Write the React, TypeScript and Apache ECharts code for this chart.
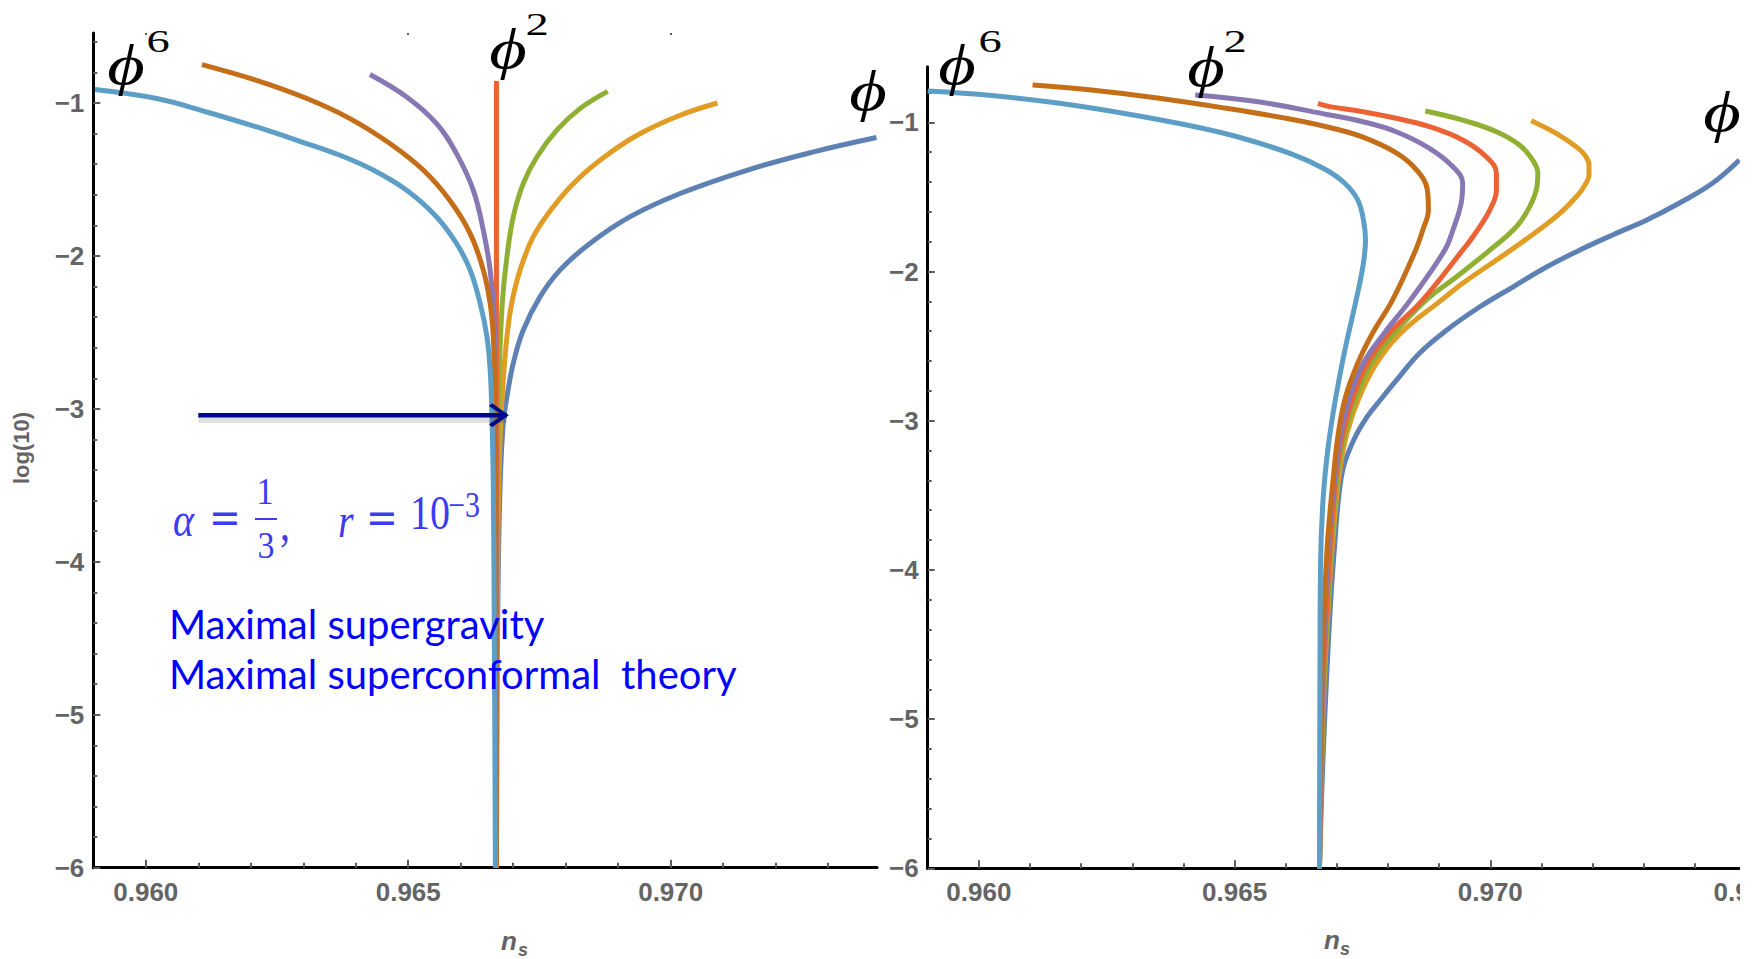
import React, { useEffect, useRef } from "react";
import * as echarts from "echarts";

type Pt = [number, number];

// ---------- axes ----------
const X_MIN = 0.959;
const LEFT_X_MAX = 0.97393;
const RIGHT_X_MAX = 0.975;
const Y_MIN = -6;
const LEFT_Y_MAX = -0.5425;
const RIGHT_Y_MAX = -0.6273;

const xLabelsLeft = [0.96, 0.965, 0.97];
const xLabelsRight = [0.96, 0.965, 0.97, 0.975];
const xMinorLeft = [0.961, 0.962, 0.963, 0.964, 0.966, 0.967, 0.968, 0.969, 0.971, 0.972, 0.973];
const xMinorRight = [0.961, 0.962, 0.963, 0.964, 0.966, 0.967, 0.968, 0.969, 0.971, 0.972, 0.973, 0.974];
const yLabels = [-6, -5, -4, -3, -2, -1];
const yMinorLeft = [-5.8, -5.6, -5.4, -5.2, -4.8, -4.6, -4.4, -4.2, -3.8, -3.6, -3.4, -3.2, -2.8, -2.6, -2.4, -2.2, -1.8, -1.6, -1.4, -1.2, -0.8, -0.6];
const yMinorRight = [-5.8, -5.6, -5.4, -5.2, -4.8, -4.6, -4.4, -4.2, -3.8, -3.6, -3.4, -3.2, -2.8, -2.6, -2.4, -2.2, -1.8, -1.6, -1.4, -1.2, -0.8];

// ---------- left panel curves (n_s, log10 r) ----------
const leftPhi1: Pt[] = [[0.97392, -1.226], [0.97272, -1.32], [0.97145, -1.44], [0.97018, -1.592], [0.96922, -1.745], [0.96846, -1.919], [0.96789, -2.093], [0.96751, -2.268], [0.96719, -2.486], [0.967, -2.703], [0.96688, -2.922], [0.96681, -3.095], [0.96675, -3.5], [0.96671, -4.2], [0.96669, -5], [0.96668, -6]];
const leftOrange: Pt[] = [[0.97089, -1.0], [0.97018, -1.08], [0.96942, -1.2], [0.96878, -1.342], [0.96821, -1.505], [0.96776, -1.68], [0.96738, -1.876], [0.96713, -2.093], [0.96697, -2.311], [0.96688, -2.529], [0.96681, -2.812], [0.96675, -3.2], [0.96671, -3.8], [0.96669, -4.8], [0.96668, -6]];
const leftGreen: Pt[] = [[0.9688, -0.924], [0.96827, -1.037], [0.96783, -1.178], [0.96745, -1.353], [0.96719, -1.527], [0.967, -1.745], [0.96688, -2.007], [0.9668, -2.268], [0.96675, -2.595], [0.96672, -2.922], [0.9667, -3.5], [0.96668, -4.5], [0.96668, -6]];
const leftPhi2: Pt[] = [[0.96668, -0.856], [0.96668, -6]];
const leftPurple: Pt[] = [[0.96427, -0.814], [0.96497, -0.961], [0.96554, -1.135], [0.96592, -1.331], [0.96624, -1.571], [0.96643, -1.832], [0.96656, -2.093], [0.96663, -2.376], [0.96666, -2.8], [0.96667, -3.5], [0.96668, -4.5], [0.96668, -6]];
const leftBrown: Pt[] = [[0.96107, -0.749], [0.96211, -0.852], [0.96307, -0.971], [0.96389, -1.102], [0.96465, -1.265], [0.96529, -1.44], [0.96579, -1.636], [0.96618, -1.854], [0.96643, -2.093], [0.96656, -2.311], [0.96662, -2.529], [0.96665, -2.9], [0.96667, -3.6], [0.96668, -6]];
const leftPhi6: Pt[] = [[0.95903, -0.912], [0.96021, -0.971], [0.96116, -1.059], [0.96211, -1.157], [0.96288, -1.244], [0.9637, -1.342], [0.96434, -1.44], [0.96497, -1.571], [0.96554, -1.745], [0.96592, -1.919], [0.96618, -2.093], [0.96637, -2.311], [0.9665, -2.529], [0.96656, -2.747], [0.96659, -2.987], [0.96662, -3.5], [0.96664, -4.5], [0.96666, -6]];

// ---------- right panel curves ----------
const rightPhi1: Pt[] = [[0.97487, -1.253], [0.97435, -1.407], [0.9737, -1.541], [0.97306, -1.655], [0.97239, -1.755], [0.97175, -1.856], [0.9711, -1.97], [0.97044, -2.104], [0.96979, -2.238], [0.96915, -2.392], [0.96862, -2.546], [0.96817, -2.727], [0.96785, -2.861], [0.96759, -2.975], [0.96733, -3.129], [0.96713, -3.31], [0.96703, -3.532], [0.96695, -3.867], [0.96688, -4.202], [0.96681, -4.651], [0.96675, -5.093], [0.9667, -5.541], [0.96666, -6]];
const rightOrange: Pt[] = [[0.9708, -0.989], [0.97129, -1.074], [0.97168, -1.164], [0.97185, -1.22], [0.97193, -1.287], [0.97193, -1.354], [0.97185, -1.421], [0.97171, -1.488], [0.97136, -1.61], [0.97077, -1.767], [0.97012, -1.923], [0.96946, -2.079], [0.96905, -2.19], [0.96825, -2.412], [0.96778, -2.613], [0.96744, -2.841], [0.9672, -3.082], [0.96705, -3.35], [0.96692, -3.803], [0.96684, -4.205], [0.96674, -4.875], [0.96666, -6]];
const rightGreen: Pt[] = [[0.96873, -0.924], [0.96946, -0.985], [0.97012, -1.063], [0.97057, -1.152], [0.97083, -1.253], [0.97093, -1.342], [0.9709, -1.454], [0.97077, -1.566], [0.97051, -1.7], [0.96999, -1.857], [0.96934, -2.035], [0.96875, -2.19], [0.96813, -2.412], [0.96768, -2.613], [0.96738, -2.841], [0.96716, -3.082], [0.96702, -3.35], [0.9669, -3.803], [0.96683, -4.205], [0.96673, -4.875], [0.96666, -6]];
const rightPhi2: Pt[] = [[0.96663, -0.873], [0.96686, -0.895], [0.96751, -0.929], [0.96816, -0.973], [0.96881, -1.029], [0.96946, -1.119], [0.96992, -1.231], [0.97012, -1.342], [0.97012, -1.454], [0.96999, -1.588], [0.96966, -1.767], [0.96946, -1.857], [0.96868, -2.19], [0.96803, -2.412], [0.9676, -2.613], [0.96732, -2.841], [0.96712, -3.082], [0.96699, -3.35], [0.96688, -3.803], [0.96681, -4.205], [0.96672, -4.875], [0.96666, -6]];
const rightPurple: Pt[] = [[0.96423, -0.817], [0.96546, -0.862], [0.96686, -0.951], [0.96751, -0.996], [0.96816, -1.063], [0.96881, -1.174], [0.96927, -1.298], [0.96946, -1.409], [0.96943, -1.543], [0.96927, -1.722], [0.96911, -1.857], [0.96844, -2.19], [0.96793, -2.412], [0.96752, -2.613], [0.96725, -2.841], [0.96708, -3.082], [0.96697, -3.35], [0.96684, -3.803], [0.96678, -4.205], [0.96671, -4.875], [0.96666, -6]];
const rightBrown: Pt[] = [[0.96105, -0.75], [0.9622, -0.784], [0.96349, -0.837], [0.9648, -0.904], [0.96608, -0.978], [0.96686, -1.035], [0.96751, -1.099], [0.96817, -1.206], [0.96856, -1.32], [0.96877, -1.454], [0.96879, -1.588], [0.96868, -1.722], [0.96854, -1.857], [0.96809, -2.19], [0.9677, -2.412], [0.96741, -2.613], [0.96717, -2.841], [0.96703, -3.082], [0.96694, -3.35], [0.96682, -3.803], [0.96676, -4.205], [0.9667, -4.875], [0.96666, -6]];
const rightPhi6: Pt[] = [[0.959, -0.79], [0.96025, -0.82], [0.96154, -0.871], [0.96285, -0.941], [0.96416, -1.025], [0.96514, -1.105], [0.96611, -1.212], [0.96676, -1.313], [0.96715, -1.407], [0.96741, -1.521], [0.96752, -1.655], [0.96756, -1.789], [0.96752, -1.943], [0.96739, -2.171], [0.96717, -2.506], [0.96698, -2.842], [0.96683, -3.177], [0.96673, -3.532], [0.96668, -3.981], [0.96667, -4.651], [0.96666, -6]];

// ---------- arrow annotation ----------
const arrowY = -3.041;
const arrowShadowY = -3.07;
const arrowStartX = 0.961;
const arrowTipX = 0.96688;

// ---------- colours ----------
const C_PHI1 = "#5E81B5";
const C_ORANGE = "#E19C24";
const C_GREEN = "#8FB032";
const C_PHI2 = "#EB6235";
const C_PURPLE = "#8778B3";
const C_BROWN = "#C56E1A";
const C_PHI6 = "#5D9EC7";

const TICK_GRAY = "#5c5c5c";
const LABEL_GRAY = "#646464";
const MATH_BLUE = "#3b3bf2";
const ARROW_BLUE = "#00098c";

const labelStyle = {
  color: LABEL_GRAY,
  fontSize: 26,
  fontWeight: "bold" as const,
  fontFamily: '"Liberation Sans", Arial, sans-serif',
};

function lineSeries(name: string, data: Pt[], color: string, xi: number, yi: number) {
  return {
    type: "line",
    name,
    data,
    xAxisIndex: xi,
    yAxisIndex: yi,
    symbol: "none",
    showSymbol: false,
    smooth: 0.4,
    silent: true,
    lineStyle: { color, width: 5, cap: "butt" },
    itemStyle: { color },
    z: 2,
  };
}

function mainX(grid: number, max: number, labels: number[]) {
  return {
    type: "value",
    gridIndex: grid,
    min: X_MIN,
    max,
    position: "bottom",
    axisLine: { show: true, onZero: false, lineStyle: { color: "#000", width: 3 } },
    axisTick: { show: true, inside: true, length: 8, customValues: labels, lineStyle: { color: TICK_GRAY, width: 2 } },
    axisLabel: { show: true, customValues: labels, margin: 11, formatter: (v: number) => v.toFixed(3), ...labelStyle },
    splitLine: { show: false },
  };
}
function minorX(grid: number, max: number, ticks: number[], position = "bottom", len = 5) {
  return {
    type: "value",
    gridIndex: grid,
    min: X_MIN,
    max,
    position,
    axisLine: { show: false },
    axisTick: { show: true, inside: true, length: len, customValues: ticks, lineStyle: { color: TICK_GRAY, width: 2 } },
    axisLabel: { show: false },
    splitLine: { show: false },
  };
}
function mainY(grid: number, max: number) {
  return {
    type: "value",
    gridIndex: grid,
    min: Y_MIN,
    max,
    position: "left",
    axisLine: { show: true, onZero: false, lineStyle: { color: "#000", width: 3 } },
    axisTick: { show: true, inside: true, length: 7, customValues: yLabels, lineStyle: { color: TICK_GRAY, width: 2 } },
    axisLabel: { show: true, customValues: yLabels, margin: 9, formatter: (v: number) => "\u2212" + Math.abs(v), ...labelStyle },
    splitLine: { show: false },
  };
}
function minorY(grid: number, max: number, ticks: number[]) {
  return {
    type: "value",
    gridIndex: grid,
    min: Y_MIN,
    max,
    position: "left",
    axisLine: { show: false },
    axisTick: { show: true, inside: true, length: 4, customValues: ticks, lineStyle: { color: TICK_GRAY, width: 2 } },
    axisLabel: { show: false },
    splitLine: { show: false },
  };
}

const CHEVRON = "path://M0,2.8 L3.2,0 L20,12 L3.2,24 L0,21.2 L13.5,12 Z";

function txt(text: string, x: number, y: number, font: string, fill: string, align = "center", extra: any = {}) {
  return {
    type: "text",
    x,
    y,
    z: 10,
    silent: true,
    ...extra,
    style: { text, font, fill, align, verticalAlign: "middle", textAlign: align, textVerticalAlign: "middle" },
  };
}

const PHI_FONT = 'italic 58px "Liberation Serif", "DejaVu Serif", serif';
const SUP_FONT = '31px "Liberation Serif", serif';
const MATH_FONT = '40px "Liberation Serif", serif';
const MATH_EQ = '38px "DejaVu Serif", serif';
const MATH_IT = 'italic 40px "Liberation Serif", serif';
const MATH_FRAC = '34px "Liberation Serif", serif';
const MATH_SUP = '30px "Liberation Serif", serif';
const TEXT_FONT = '40px Lato, "Open Sans", sans-serif';
const AXNAME_FONT = 'italic bold 26px "Liberation Sans", Arial, sans-serif';
const AXSUB_FONT = 'italic bold 18px "Liberation Sans", Arial, sans-serif';

const PHI_SCALE = { scaleX: 1.25 };
const SUP_SCALE = { scaleX: 1.5 };
const MATH_SCALE = { scaleY: 1.2 };
const FRAC_SCALE = { scaleY: 1.1 };

export default function App() {
  const ref = useRef<HTMLDivElement>(null);
  useEffect(() => {
    if (!ref.current) return;
    const chart = echarts.init(ref.current, null, { renderer: "svg" });
    const option: any = {
      animation: false,
      backgroundColor: "#ffffff",
      grid: [
        { left: 93.3, top: 33, width: 783.7, height: 834.7, containLabel: false, outerBoundsMode: "none" },
        { left: 927.7, top: 66.7, width: 818.3, height: 801.6, containLabel: false, outerBoundsMode: "none" },
      ],
      xAxis: [
        mainX(0, LEFT_X_MAX, xLabelsLeft),
        minorX(0, LEFT_X_MAX, xMinorLeft),
        minorX(0, LEFT_X_MAX, xLabelsLeft, "top", 2),
        mainX(1, RIGHT_X_MAX, xLabelsRight),
        minorX(1, RIGHT_X_MAX, xMinorRight),
      ],
      yAxis: [
        mainY(0, LEFT_Y_MAX),
        minorY(0, LEFT_Y_MAX, yMinorLeft),
        mainY(1, RIGHT_Y_MAX),
        minorY(1, RIGHT_Y_MAX, yMinorRight),
      ],
      series: [
        lineSeries("ϕ (left)", leftPhi1, C_PHI1, 0, 0),
        lineSeries("curve 2 (left)", leftOrange, C_ORANGE, 0, 0),
        lineSeries("curve 3 (left)", leftGreen, C_GREEN, 0, 0),
        lineSeries("ϕ² (left)", leftPhi2, C_PHI2, 0, 0),
        lineSeries("curve 5 (left)", leftPurple, C_PURPLE, 0, 0),
        lineSeries("curve 6 (left)", leftBrown, C_BROWN, 0, 0),
        lineSeries("ϕ⁶ (left)", leftPhi6, C_PHI6, 0, 0),
        lineSeries("ϕ (right)", rightPhi1, C_PHI1, 3, 2),
        lineSeries("curve 2 (right)", rightOrange, C_ORANGE, 3, 2),
        lineSeries("curve 3 (right)", rightGreen, C_GREEN, 3, 2),
        lineSeries("ϕ² (right)", rightPhi2, C_PHI2, 3, 2),
        lineSeries("curve 5 (right)", rightPurple, C_PURPLE, 3, 2),
        lineSeries("curve 6 (right)", rightBrown, C_BROWN, 3, 2),
        lineSeries("ϕ⁶ (right)", rightPhi6, C_PHI6, 3, 2),
        {
          type: "line",
          name: "arrow shadow",
          xAxisIndex: 0,
          yAxisIndex: 0,
          data: [[arrowStartX, arrowShadowY], [arrowTipX, arrowShadowY]],
          symbol: "none",
          silent: true,
          z: 4,
          lineStyle: { color: "rgba(0,0,0,0.12)", width: 7 },
        },
        {
          type: "line",
          name: "arrow",
          xAxisIndex: 0,
          yAxisIndex: 0,
          data: [[arrowStartX, arrowY], [arrowTipX, arrowY]],
          symbol: "none",
          silent: true,
          z: 5,
          lineStyle: { color: ARROW_BLUE, width: 4.5 },
          markPoint: {
            silent: true,
            symbol: CHEVRON,
            symbolSize: [20, 24],
            symbolOffset: [-8, 0],
            label: { show: false },
            itemStyle: { color: ARROW_BLUE },
            data: [{ coord: [arrowTipX, arrowY] }],
          },
        },
      ],
      graphic: {
        elements: [
          // curve labels
          txt("\u03D5", 126, 64, PHI_FONT, "#000", "center", PHI_SCALE),
          txt("6", 158, 42, SUP_FONT, "#000", "center", SUP_SCALE),
          txt("\u03D5", 508, 48, PHI_FONT, "#000", "center", PHI_SCALE),
          txt("2", 537, 25, SUP_FONT, "#000", "center", SUP_SCALE),
          txt("\u03D5", 868, 90, PHI_FONT, "#000", "center", PHI_SCALE),
          txt("\u03D5", 957, 64, PHI_FONT, "#000", "center", PHI_SCALE),
          txt("6", 990, 42, SUP_FONT, "#000", "center", SUP_SCALE),
          txt("\u03D5", 1206, 66, PHI_FONT, "#000", "center", PHI_SCALE),
          txt("2", 1235, 42, SUP_FONT, "#000", "center", SUP_SCALE),
          txt("\u03D5", 1722, 111, PHI_FONT, "#000", "center", PHI_SCALE),
          // math annotation
          txt("\u03B1", 173, 520, MATH_IT, MATH_BLUE, "left", MATH_SCALE),
          txt("=", 209, 517, MATH_EQ, MATH_BLUE, "left", MATH_SCALE),
          txt("1", 265, 491, MATH_FRAC, MATH_BLUE, "center", FRAC_SCALE),
          {
            type: "line",
            z: 10,
            silent: true,
            shape: { x1: 255, y1: 519, x2: 277, y2: 519 },
            style: { stroke: MATH_BLUE, lineWidth: 2 },
          },
          txt("3", 266, 545, MATH_FRAC, MATH_BLUE, "center", FRAC_SCALE),
          txt(",", 280, 524, MATH_FONT, MATH_BLUE, "left", MATH_SCALE),
          txt("r", 338, 521, MATH_IT, MATH_BLUE, "left", MATH_SCALE),
          txt("=", 366, 517, MATH_EQ, MATH_BLUE, "left", MATH_SCALE),
          txt("10", 410, 513, MATH_FONT, MATH_BLUE, "left", MATH_SCALE),
          txt("\u22123", 448, 505, MATH_SUP, MATH_BLUE, "left", MATH_SCALE),
          // blue text
          txt("Maximal supergravity", 169, 624, TEXT_FONT, "#0000ff", "left"),
          txt("Maximal superconformal\u00A0 theory", 169, 674, TEXT_FONT, "#0000ff", "left"),
          // axis names
          txt("log(10)", 21, 448, 'bold 22px "Liberation Sans", Arial, sans-serif', LABEL_GRAY, "center", { rotation: Math.PI / 2 }),
          txt("n", 509, 941, AXNAME_FONT, LABEL_GRAY),
          txt("s", 523, 950, AXSUB_FONT, LABEL_GRAY),
          txt("n", 1332, 940, AXNAME_FONT, LABEL_GRAY),
          txt("s", 1345, 949, AXSUB_FONT, LABEL_GRAY),
          // image edge
          {
            type: "rect",
            z: 100,
            silent: true,
            shape: { x: 1740, y: 0, width: 18, height: 959 },
            style: { fill: "#ffffff" },
          },
        ],
      },
    };
    chart.setOption(option);
    return () => chart.dispose();
  }, []);
  return (
    <div
      ref={ref}
      style={{ position: "absolute", left: 0, top: 0, width: 1758, height: 959, background: "#ffffff" }}
    />
  );
}
